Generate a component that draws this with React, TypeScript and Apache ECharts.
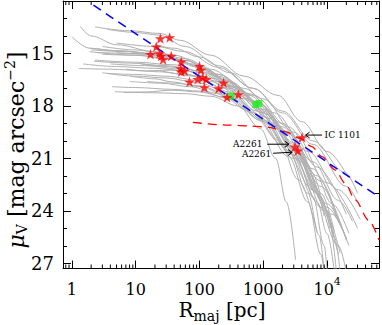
import React, { useEffect, useRef } from "react";
import * as echarts from "echarts";

// ---------- axes ----------
const X_MIN = 0.724;
const X_MAX = 65000;
const Y_MIN = 12;
const Y_MAX = 27.3;
const xMajorTicks = [1, 10, 100, 1000, 10000];
const xMinorTicks = [
  0.8, 0.9, 2, 3, 4, 5, 6, 7, 8, 9, 20, 30, 40, 50, 60, 70, 80, 90, 200, 300, 400, 500, 600, 700, 800,
  900, 2000, 3000, 4000, 5000, 6000, 7000, 8000, 9000, 20000, 30000, 40000, 50000, 60000,
];
const yTickLabels = [15, 18, 21, 24, 27];

// ---------- gray surface-brightness profiles [R (pc), mu_V] ----------
const profilesBrightCore = [
  [[1.35, 13.45], [2, 14.0], [5, 14.5], [20, 14.9], [60, 15.3], [200, 16.2], [600, 17.3], [2000, 19.0], [6000, 21.2], [15000, 23.4], [25000, 24.6]],
  [[2.3, 13.48], [8, 13.7], [24, 13.86], [50, 14.25], [150, 15.1], [500, 16.3], [1700, 17.4], [4000, 18.9], [10000, 20.6], [20000, 21.9]],
  [[3.6, 13.62], [10, 13.8], [23, 13.95], [60, 14.6], [200, 15.7], [700, 17.0], [2000, 18.4], [6000, 20.2], [20000, 22.6], [30000, 23.5]],
  [[1.0, 14.05], [1.9, 14.7], [5, 14.85], [20, 15.0], [60, 15.4], [200, 16.2], [700, 17.4], [2500, 19.2], [7000, 21.5], [20000, 24.2]],
  [[5, 14.4], [20, 14.6], [60, 14.9], [200, 15.8], [700, 17.0], [2000, 18.3], [6000, 20.0], [19000, 21.8], [30000, 23.0]],
  [[3, 14.6], [10, 14.8], [40, 15.1], [150, 15.9], [500, 17.0], [1500, 18.4], [5000, 20.6], [15000, 22.8], [33000, 24.5]],
];
const profilesMidCore = [
  [[1.9, 14.7], [6, 14.85], [20, 15.05], [60, 15.4], [200, 16.3], [600, 17.4], [2000, 19.2], [6000, 21.6], [12000, 23.6], [22000, 25.3]],
  [[2.0, 14.8], [8, 14.9], [25, 15.1], [80, 15.6], [250, 16.5], [800, 17.8], [2500, 19.6], [7000, 22.0], [14000, 24.4]],
  [[2.5, 14.95], [10, 15.0], [30, 15.2], [100, 15.7], [300, 16.6], [900, 17.9], [2500, 19.5], [8000, 22.3], [15000, 24.6]],
  [[3.0, 15.05], [10, 15.1], [35, 15.35], [100, 15.8], [300, 16.7], [1000, 18.2], [3000, 20.2], [8000, 23.0], [13000, 25.2]],
  [[5, 14.95], [15, 15.05], [40, 15.3], [120, 15.9], [350, 16.9], [1000, 18.3], [3000, 20.4], [7000, 23.0], [9000, 24.3]],
  [[1.9, 14.9], [10, 15.1], [40, 15.3], [120, 15.9], [400, 17.0], [1200, 18.5], [3500, 20.7], [10000, 23.6], [20000, 25.6]],
  [[2.3, 15.38], [10, 15.5], [40, 15.65], [120, 16.1], [400, 17.1], [1200, 18.7], [3500, 21.0], [9000, 24.0], [16000, 26.4]],
];
const profilesFaintCore = [
  [[1.28, 15.86], [4, 15.9], [15, 16.0], [36, 15.95], [100, 16.3], [300, 17.0], [1000, 18.4], [3000, 20.4], [8000, 23.2], [11000, 25.0]],
  [[2.2, 15.44], [8, 15.55], [30, 15.7], [100, 16.0], [300, 16.8], [1000, 18.2], [3000, 20.1], [8000, 22.6], [20000, 25.7]],
  [[1.5, 15.6], [5, 15.75], [20, 15.85], [60, 16.0], [200, 16.6], [600, 17.6], [2000, 19.4], [6000, 22.0], [10000, 24.0], [13000, 25.5], [16000, 27.5]],
  [[3.55, 16.14], [10, 16.2], [30, 16.3], [100, 16.55], [300, 17.2], [1000, 18.6], [3000, 20.8], [7000, 23.5], [10000, 25.3], [13000, 27.5]],
  [[8.2, 16.3], [20, 16.45], [36, 16.62], [100, 16.9], [300, 17.5], [1000, 18.9], [2500, 20.6], [5000, 23.0], [7500, 25.4], [9000, 27.5]],
  [[4.25, 16.9], [10, 16.95], [36, 17.05], [100, 17.15], [300, 17.6], [900, 18.8], [2500, 20.9], [5000, 23.5], [8000, 26.5], [9000, 27.5]],
  [[6.45, 17.23], [15, 17.2], [36, 17.1], [100, 17.2], [250, 17.5], [700, 18.4], [1800, 20.0], [3500, 22.2], [6900, 25.2]],
  [[4.7, 17.19], [20, 17.25], [60, 17.3], [150, 17.45], [400, 18.0], [900, 19.3], [1560, 21.0], [2300, 23.5], [3200, 26.8]],
  [[4, 15.6], [15, 15.7], [50, 15.9], [150, 16.4], [500, 17.4], [1500, 19.0], [4000, 21.0], [10000, 24.0], [14000, 27.5]],
  [[7, 15.9], [25, 16.05], [80, 16.3], [250, 17.0], [800, 18.3], [2500, 20.3], [7000, 23.0], [13000, 25.5]],
  [[3, 16.1], [10, 16.3], [30, 16.4], [100, 16.7], [300, 17.3], [1000, 18.8], [2800, 20.8], [6000, 23.2], [9000, 26.0], [10000, 27.5]],
];
const profilesLateStart = [
  [[12, 15.6], [30, 15.75], [100, 16.1], [300, 16.9], [1000, 18.4], [3000, 20.5], [10000, 23.8], [20000, 25.6]],
  [[15, 16.6], [40, 16.7], [100, 16.85], [300, 17.4], [1000, 18.8], [3000, 21.0], [8000, 23.8], [15000, 26.5]],
  [[20, 14.5], [40, 14.7], [100, 15.2], [300, 16.1], [1000, 17.6], [3000, 19.5], [10000, 22.4], [30000, 25.0]],
  [[25, 16.0], [60, 16.2], [150, 16.6], [500, 17.6], [1500, 19.2], [4000, 21.2], [12000, 24.2], [22000, 26.0]],
  [[8, 16.6], [25, 16.7], [70, 16.9], [200, 17.3], [600, 18.3], [2000, 20.2], [6000, 22.8], [15000, 26.0], [20000, 27.5]],
];

// ---------- stars, squares, reference lines ----------
const starR = [24.3, 34, 21, 17, 23.7, 25, 26.8, 36, 51.6, 50.5, 51.6, 58, 69.6, 100, 105, 93.5, 112, 127, 119, 199, 238, 270, 407, 4050, 3130, 3470];
const starMu = [14.14, 14.09, 14.62, 15.04, 15.0, 15.15, 15.34, 15.14, 15.48, 15.86, 16.05, 15.99, 16.62, 15.73, 15.95, 16.47, 16.37, 16.47, 16.94, 17.0, 16.68, 17.51, 17.34, 19.8, 20.34, 20.56];
const greenR = [310, 760, 850];
const greenMu = [17.44, 17.92, 17.86];
const sersicR = [78.5, 292, 634, 1230, 2240, 3800, 5760, 8300, 13400, 19200, 27600, 44500, 65000];
const sersicMu = [18.94, 19.1, 19.15, 19.23, 19.48, 19.86, 20.33, 20.9, 21.67, 22.43, 23.38, 24.53, 25.67];
const blueR = [2.17, 65000];
const blueMu = [12.24, 23.21];

// ---------- annotations ----------
const annotLabels = ["IC 1101", "A2261", "A2261"];
const annotR = [4050, 3130, 3470];
const annotMu = [19.8, 20.34, 20.56];

// pixel offsets relative to the target star (style only)
const annotGeom = [
  { tip: [3.5, -2.3], tail: [20, -2.3], text: [22.5, -2.3], align: "left" },
  { tip: [-6, -2.6], tail: [-27.7, -2.6], text: [-32.5, -3.2], align: "right" },
  { tip: [-5.7, 1.6], tail: [-24.7, 2.6], text: [-26.5, 3.2], align: "right" },
];

const FONT = "DejaVu Serif";
const STAR =
  "path://M0,-10L2.245,-3.09L9.511,-3.09L3.633,1.18L5.878,8.09L0,3.82L-5.878,8.09L-3.633,1.18L-9.511,-3.09L-2.245,-3.09Z";

function buildOption(): any {
  const black = { color: "#000", width: 1 };
  const xLabelFmt = (v: number) => {
    const hit = xMajorTicks.find((t) => Math.abs(t - v) / t < 1e-6);
    if (hit === undefined) return "";
    if (hit === 10000) return "{b|10}{s|4}";
    return "{b|" + hit + "}";
  };
  const xAxisBase = {
    type: "log",
    logBase: 10,
    min: X_MIN,
    max: X_MAX,
    axisLine: { show: true, onZero: false, lineStyle: black },
    axisTick: { show: true, inside: true, length: 8, lineStyle: black },
    splitLine: { show: false },
  };
  const yAxisBase = {
    type: "value",
    inverse: true,
    min: Y_MIN,
    max: Y_MAX,
    interval: 3,
    axisLine: { show: true, onZero: false, lineStyle: black },
    axisTick: { show: true, inside: true, length: 8, lineStyle: black },
    minorTick: { show: true, splitNumber: 3, length: 4, lineStyle: black },
    splitLine: { show: false },
  };

  const allProfiles = [...profilesBrightCore, ...profilesMidCore, ...profilesFaintCore, ...profilesLateStart];
  const graySeries = allProfiles.map((p) => ({
    type: "line",
    data: p,
    symbol: "none",
    showSymbol: false,
    smooth: 0.35,
    smoothMonotone: "x",
    clip: true,
    silent: true,
    z: 1,
    lineStyle: { color: "#b0b0b0", width: 1 },
  }));

  return {
    animation: false,
    backgroundColor: "#fff",
    textStyle: { fontFamily: FONT },
    grid: { left: 63, right: 1.5, top: 1, bottom: 56.5 },
    xAxis: [
      {
        ...xAxisBase,
        position: "bottom",
        axisLabel: {
          show: true,
          margin: 7,
          color: "#000",
          formatter: xLabelFmt,
          rich: {
            b: { fontSize: 16, fontFamily: FONT, color: "#000", lineHeight: 28 },
            s: { fontSize: 11, fontFamily: FONT, color: "#000", verticalAlign: "top", lineHeight: 11 },
          },
        },
      },
      { ...xAxisBase, position: "top", axisLabel: { show: false } },
    ],
    yAxis: [
      {
        ...yAxisBase,
        position: "left",
        axisLabel: {
          show: true,
          margin: 9,
          color: "#000",
          fontSize: 18,
          fontFamily: FONT,
          formatter: (v: number) => (yTickLabels.indexOf(Math.round(v * 1000) / 1000) >= 0 ? String(v) : ""),
        },
      },
      { ...yAxisBase, position: "right", axisLabel: { show: false } },
    ],
    graphic: [
      {
        type: "text",
        x: 222,
        y: 310,
        style: {
          text: "{r|R}{s|maj}{n| [pc]}",
          align: "center",
          verticalAlign: "middle",
          fill: "#000",
          rich: {
            r: { fontSize: 20, fontFamily: FONT, fill: "#000", lineHeight: 26 },
            s: { fontSize: 14, fontFamily: FONT, fill: "#000", verticalAlign: "bottom", lineHeight: 14 },
            n: { fontSize: 20, fontFamily: FONT, fill: "#000", lineHeight: 26 },
          },
        },
      },
      {
        type: "text",
        x: 16,
        y: 150,
        rotation: Math.PI / 2,
        style: {
          text: "{m|μ}{v|V}{n| [mag arcsec}{p|−2}{n|]}",
          align: "center",
          verticalAlign: "middle",
          fill: "#000",
          rich: {
            m: { fontSize: 22, fontFamily: FONT, fontStyle: "italic", fill: "#000", lineHeight: 26 },
            v: { fontSize: 14, fontFamily: FONT, fill: "#000", verticalAlign: "bottom", lineHeight: 14 },
            n: { fontSize: 22, fontFamily: FONT, fill: "#000", lineHeight: 26 },
            p: { fontSize: 14, fontFamily: FONT, fill: "#000", verticalAlign: "top", lineHeight: 14 },
          },
        },
      },
    ],
    series: [
      ...graySeries,
      {
        type: "line",
        data: sersicR.map((r, i) => [r, sersicMu[i]]),
        symbol: "none",
        smooth: 0.3,
        smoothMonotone: "x",
        clip: true,
        z: 3,
        lineStyle: { color: "#ff0000", width: 1.3, type: [9, 6] },
      },
      {
        type: "line",
        data: blueR.map((r, i) => [r, blueMu[i]]),
        symbol: "none",
        clip: true,
        z: 4,
        lineStyle: { color: "#0000ff", width: 1.5, type: [9, 6] },
      },
      {
        type: "scatter",
        data: greenR.map((r, i) => [r, greenMu[i]]),
        symbol: "rect",
        symbolSize: 7,
        z: 5,
        itemStyle: { color: "#22ee22" },
      },
      {
        type: "scatter",
        data: starR.map((r, i) => [r, starMu[i]]),
        symbol: STAR,
        symbolKeepAspect: true,
        symbolSize: 11,
        z: 6,
        itemStyle: { color: "#ff0000" },
      },
      {
        type: "custom",
        z: 7,
        silent: true,
        clip: false,
        data: annotR.map((r, i) => [r, annotMu[i], i]),
        renderItem: (params: any, api: any) => {
          const i = params.dataIndex;
          const g = annotGeom[i];
          const c = api.coord([api.value(0), api.value(1)]);
          const tip = [c[0] + g.tip[0], c[1] + g.tip[1]];
          const tail = [c[0] + g.tail[0], c[1] + g.tail[1]];
          const dx = tip[0] - tail[0];
          const dy = tip[1] - tail[1];
          const len = Math.sqrt(dx * dx + dy * dy) || 1;
          const ux = dx / len;
          const uy = dy / len;
          const hl = 5;
          const ang = Math.PI / 5;
          const arm = (s: number) => {
            const cs = Math.cos(s * ang);
            const sn = Math.sin(s * ang);
            const rx = ux * cs - uy * sn;
            const ry = ux * sn + uy * cs;
            return [tip[0] - hl * rx, tip[1] - hl * ry];
          };
          const a1 = arm(1);
          const a2 = arm(-1);
          const st = { stroke: "#000", lineWidth: 1 };
          return {
            type: "group",
            children: [
              { type: "line", shape: { x1: tail[0], y1: tail[1], x2: tip[0], y2: tip[1] }, style: st },
              { type: "polyline", shape: { points: [a1, tip, a2] }, style: { ...st, fill: "none" } },
              {
                type: "text",
                style: {
                  text: annotLabels[i],
                  x: c[0] + g.text[0],
                  y: c[1] + g.text[1],
                  align: g.align,
                  verticalAlign: "middle",
                  fill: "#000",
                  font: "9px '" + FONT + "'",
                },
              },
            ],
          };
        },
      },
      {
        type: "custom",
        z: 8,
        silent: true,
        clip: false,
        data: xMinorTicks.map((v) => [v, Y_MIN]),
        renderItem: (params: any, api: any) => {
          const x = api.coord([api.value(0), Y_MIN])[0];
          const cs = params.coordSys;
          const top = cs.y;
          const bottom = cs.y + cs.height;
          const st = { stroke: "#000", lineWidth: 1 };
          return {
            type: "group",
            children: [
              { type: "line", shape: { x1: x, y1: bottom, x2: x, y2: bottom - 4 }, style: st },
              { type: "line", shape: { x1: x, y1: top, x2: x, y2: top + 4 }, style: st },
            ],
          };
        },
      },
    ],
  };
}

export default function App() {
  const ref = useRef<HTMLDivElement>(null);
  useEffect(() => {
    if (!ref.current) return;
    const chart = echarts.init(ref.current, null, { renderer: "svg" });
    chart.setOption(buildOption());
    return () => chart.dispose();
  }, []);
  return (
    <div
      ref={ref}
      style={{ position: "fixed", left: 0, top: 0, width: 382, height: 325, background: "#fff" }}
    />
  );
}
